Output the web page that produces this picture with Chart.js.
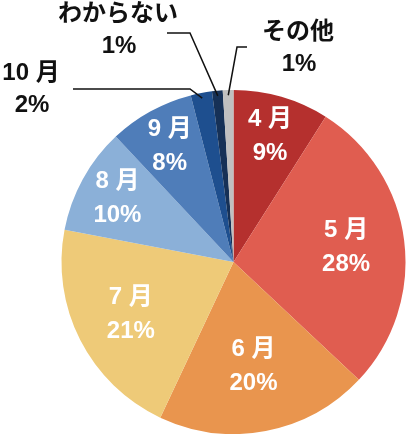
<!DOCTYPE html>
<html>
<head>
<meta charset="utf-8">
<script src="https://cdn.jsdelivr.net/npm/chart.js@4.4.0/dist/chart.umd.min.js"></script>
<style>
  html, body { margin: 0; padding: 0; background: #fff; }
  #wrap { width: 406px; height: 434px; position: relative; }
</style>
</head>
<body>
<div id="wrap"><canvas id="pie"></canvas></div>
<script>
// data, clockwise from 12 o'clock
const months = ['4 月', '5 月', '6 月', '7 月', '8 月', '9 月', '10 月', 'わからない', 'その他'];
const shares = [9, 28, 20, 21, 10, 8, 2, 1, 1];
const colors = ['#b5302e', '#e05d50', '#e9954e', '#eeca78', '#8bb0d8', '#4f7db9', '#1e4f8f', '#163157', '#c0c0c0'];

// inside labels: radius as fraction of the pie radius
const insideR = [0.76, 0.66, 0.62, 0.67, 0.77, 0.77];
// outside labels: text centre + elbow of the leader line
const outside = {
  6: { x: 31, y: 73, lx1: 73, lx2: 190, ly: 89 },
  7: { x: 118, y: 14, lx1: 167, lx2: 190, ly: 33 },
  8: { x: 298, y: 32, lx1: 247, lx2: 237, ly: 47 }
};

const FONT = '"Liberation Sans", "Noto Sans CJK JP", sans-serif';

const sliceLabels = {
  id: 'sliceLabels',
  afterDatasetsDraw(chart) {
    const ctx = chart.ctx;
    const arcs = chart.getDatasetMeta(0).data;
    ctx.save();
    ctx.textAlign = 'center';
    ctx.textBaseline = 'middle';
    ctx.font = 'bold 24px ' + FONT;
    arcs.forEach((arc, i) => {
      const mid = (arc.startAngle + arc.endAngle) / 2;
      const pct = shares[i] + '%';
      if (outside[i]) {
        const o = outside[i];
        const r = arc.outerRadius * 0.97;
        const ex = arc.x + Math.cos(mid) * r;
        const ey = arc.y + Math.sin(mid) * r;
        ctx.strokeStyle = '#111';
        ctx.lineWidth = 1.5;
        ctx.beginPath();
        ctx.moveTo(o.lx1, o.ly);
        ctx.lineTo(o.lx2, o.ly);
        ctx.lineTo(ex, ey);
        ctx.stroke();
        ctx.fillStyle = '#111';
        ctx.fillText(months[i], o.x, o.y);
        ctx.fillText(pct, o.x + 1, o.y + 32);
      } else {
        const r = arc.outerRadius * insideR[i];
        const cx = arc.x + Math.cos(mid) * r;
        const cy = arc.y + Math.sin(mid) * r;
        ctx.fillStyle = '#fff';
        ctx.fillText(months[i], cx, cy - 17);
        ctx.fillText(pct, cx, cy + 17);
      }
    });
    ctx.restore();
  }
};

new Chart(document.getElementById('pie'), {
  type: 'pie',
  data: {
    labels: months,
    datasets: [{
      data: shares,
      backgroundColor: colors,
      borderWidth: 0
    }]
  },
  options: {
    responsive: true,
    maintainAspectRatio: false,
    animation: false,
    layout: { padding: { left: 61, right: 0, top: 90, bottom: 0 } },
    plugins: {
      legend: { display: false },
      tooltip: { enabled: false }
    }
  },
  plugins: [sliceLabels]
});
</script>
</body>
</html>
